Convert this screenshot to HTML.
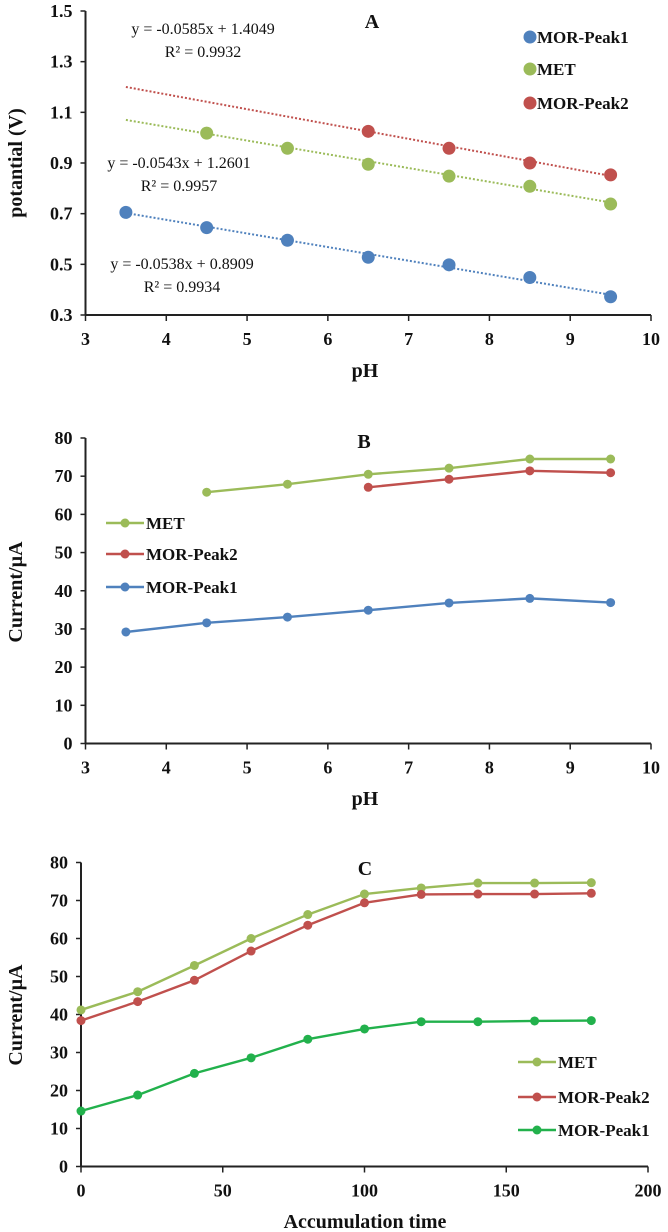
<!DOCTYPE html>
<html><head><meta charset="utf-8">
<style>
html,body{margin:0;padding:0;background:#fff;}
svg{display:block;font-family:"Liberation Serif","DejaVu Serif",serif;}
.tk{font-size:18px;font-weight:bold;fill:#111;}
.ttl{font-size:20px;font-weight:bold;fill:#111;}
.eq{font-size:16px;fill:#111;}
.lg{font-size:17px;font-weight:bold;fill:#111;}
</style></head>
<body>
<svg id="svg" width="668" height="1232" viewBox="0 0 668 1232" xmlns="http://www.w3.org/2000/svg"></svg>
<script>
// ---- Chart A data ----
const aPh1 = [3.5,4.5,5.5,6.5,7.5,8.5,9.5];
const aPeak1 = [0.705,0.645,0.595,0.528,0.498,0.448,0.372];
const aPhMet = [4.5,5.5,6.5,7.5,8.5,9.5];
const aMet = [1.018,0.958,0.895,0.848,0.808,0.738];
const aPh2 = [6.5,7.5,8.5,9.5];
const aPeak2 = [1.025,0.958,0.900,0.853];
const aSlopes = [-0.0538,-0.0543,-0.0585];
const aIntercepts = [0.8909,1.2601,1.4049];
const aYTicks = [0.3,0.5,0.7,0.9,1.1,1.3,1.5];
const aXTicks = [3,4,5,6,7,8,9,10];
// ---- Chart B data ----
const bPh1 = [3.5,4.5,5.5,6.5,7.5,8.5,9.5];
const bPeak1 = [29.2,31.6,33.1,34.9,36.8,38.0,36.9];
const bPhMet = [4.5,5.5,6.5,7.5,8.5,9.5];
const bMet = [65.8,67.9,70.5,72.1,74.5,74.5];
const bPh2 = [6.5,7.5,8.5,9.5];
const bPeak2 = [67.1,69.2,71.4,70.9];
const bYTicks = [0,10,20,30,40,50,60,70,80];
const bXTicks = [3,4,5,6,7,8,9,10];
// ---- Chart C data ----
const cTime = [0,20,40,60,80,100,120,140,160,180];
const cMet = [41.2,46.0,52.9,60.0,66.3,71.7,73.3,74.6,74.6,74.7];
const cPeak2 = [38.4,43.4,49.0,56.7,63.5,69.4,71.6,71.7,71.7,71.9];
const cPeak1 = [14.6,18.8,24.5,28.6,33.5,36.2,38.1,38.1,38.3,38.4];
const cYTicks = [0,10,20,30,40,50,60,70,80];
const cXTicks = [0,50,100,150,200];

const NS='http://www.w3.org/2000/svg';
const svg=document.getElementById('svg');
function mk(tag,attrs,parent){const e=document.createElementNS(NS,tag);for(const k in attrs)e.setAttribute(k,attrs[k]);(parent||svg).appendChild(e);return e;}
function txt(s,x,y,cls,anchor,parent){const t=mk('text',{x:x,y:y,'class':cls,'text-anchor':anchor||'start'},parent);t.textContent=s;return t;}

const BLUE='#4f81bd',GREEN='#9bbb59',RED='#c0504d',DGREEN='#22b14c';

function axes(g,sx,sy,xt,yt,x0,x1,y0,y1,yFmt){
  const ax=mk('g',{},g);
  
  
  mk('line',{x1:x0,y1:y0,x2:x0,y2:y1,stroke:'#222','stroke-width':2},ax);
  mk('line',{x1:x0,y1:y0,x2:x1,y2:y0,stroke:'#222','stroke-width':2},ax);
  yt.forEach(v=>{const y=sy(v);mk('line',{x1:x0-5,y1:y,x2:x0,y2:y,stroke:'#222','stroke-width':1.5},ax);
    const t=txt(yFmt(v),x0-13,y+6,'tk','end',ax);
    
    });
  xt.forEach(v=>{const x=sx(v);mk('line',{x1:x,y1:y0,x2:x,y2:y0+6,stroke:'#222','stroke-width':1.5},ax);
    const t=txt(String(v),x,y0+30,'tk','middle',ax);
    
    });
}
function series(g,name,xs,ys,sx,sy,color,r,line){
  const s=mk('g',{},g);
  
  
  if(line){mk('polyline',{points:xs.map((x,i)=>sx(x)+','+sy(ys[i])).join(' '),fill:'none',stroke:color,'stroke-width':2.4},s);}
  xs.forEach((x,i)=>{const c=mk('circle',{cx:sx(x),cy:sy(ys[i]),r:r,fill:color},s);
    
    });
}
function ytitle(s,x,y,g){const t=txt(s,x,y,'ttl','middle',g);t.setAttribute('transform','rotate(-90 '+x+' '+y+')');}
function label(s,x,y,cls,anchor,name,g){const t=txt(s,x,y,cls,anchor,g);return t;}
function lineLegend(g,name,s,x,y,color){
  const l=mk('g',{},g);
  
  
  mk('line',{x1:x,y1:y,x2:x+38,y2:y,stroke:color,'stroke-width':2.5},l);
  mk('circle',{cx:x+19,cy:y,r:4.5,fill:color},l);
  txt(s,x+40,y+6,'lg','start',l);
}

// ===== Chart A =====
(function(){
  const g=mk('g',{});
  const X0=85.5,X1=651,Y0=315,Y1=11;
  const sx=v=>X0+(v-3)/(10-3)*(X1-X0);
  const sy=v=>Y0-(v-0.3)/(1.5-0.3)*(Y0-Y1);
  axes(g,sx,sy,aXTicks,aYTicks,X0,X1,Y0,Y1,v=>v.toFixed(1));
  const cols=[BLUE,GREEN,RED];
  aSlopes.forEach((m,i)=>{const l=mk('line',{x1:sx(3.5),y1:sy(m*3.5+aIntercepts[i]),x2:sx(9.5),y2:sy(m*9.5+aIntercepts[i]),stroke:cols[i],'stroke-width':2,'stroke-dasharray':'2,2'},g);
    
    });
  series(g,'series-mor-peak1',aPh1,aPeak1,sx,sy,BLUE,6.5,false);
  series(g,'series-met',aPhMet,aMet,sx,sy,GREEN,6.5,false);
  series(g,'series-mor-peak2',aPh2,aPeak2,sx,sy,RED,6.5,false);
  label('A',372,28,'ttl','middle','chart-title',g).setAttribute('font-size','26');
  label('y = -0.0585x  + 1.4049',203,34,'eq','middle','equation-peak2',g);
  label('R² = 0.9932',203,57,'eq','middle','r2-peak2',g);
  label('y = -0.0543x  + 1.2601',179,168,'eq','middle','equation-met',g);
  label('R² = 0.9957',179,191,'eq','middle','r2-met',g);
  label('y = -0.0538x  + 0.8909',182,269,'eq','middle','equation-peak1',g);
  label('R² = 0.9934',182,292,'eq','middle','r2-peak1',g);
  [['MOR-Peak1',BLUE,37],['MET',GREEN,69],['MOR-Peak2',RED,103]].forEach(d=>{
    const l=mk('g',{},g);
    
    
    mk('circle',{cx:530,cy:d[2],r:6.5,fill:d[1]},l);
    txt(d[0],537,d[2]+6,'lg','start',l);
  });
  ytitle('potantial (V)',22,163,g);
  label('pH',365,377,'ttl','middle','x-axis-title',g);
})();

// ===== Chart B =====
(function(){
  const g=mk('g',{});
  const X0=85.5,X1=651,Y0=743.5,Y1=438;
  const sx=v=>X0+(v-3)/(10-3)*(X1-X0);
  const sy=v=>Y0-v/80*(Y0-Y1);
  axes(g,sx,sy,bXTicks,bYTicks,X0,X1,Y0,Y1,v=>String(v));
  series(g,'series-met',bPhMet,bMet,sx,sy,GREEN,4.5,true);
  series(g,'series-mor-peak2',bPh2,bPeak2,sx,sy,RED,4.5,true);
  series(g,'series-mor-peak1',bPh1,bPeak1,sx,sy,BLUE,4.5,true);
  label('B',364,448,'ttl','middle','chart-title',g).setAttribute('font-size','26');
  lineLegend(g,'legend-met','MET',106,523,GREEN);
  lineLegend(g,'legend-mor-peak2','MOR-Peak2',106,554,RED);
  lineLegend(g,'legend-mor-peak1','MOR-Peak1',106,587,BLUE);
  ytitle('Current/µA',22,592,g);
  label('pH',365,805,'ttl','middle','x-axis-title',g);
})();

// ===== Chart C =====
(function(){
  const g=mk('g',{});
  const X0=81,X1=648,Y0=1166.5,Y1=862.5;
  const sx=v=>X0+v/200*(X1-X0);
  const sy=v=>Y0-v/80*(Y0-Y1);
  axes(g,sx,sy,cXTicks,cYTicks,X0,X1,Y0,Y1,v=>String(v));
  series(g,'series-met',cTime,cMet,sx,sy,GREEN,4.5,true);
  series(g,'series-mor-peak2',cTime,cPeak2,sx,sy,RED,4.5,true);
  series(g,'series-mor-peak1',cTime,cPeak1,sx,sy,DGREEN,4.5,true);
  label('C',365,875,'ttl','middle','chart-title',g).setAttribute('font-size','26');
  lineLegend(g,'legend-met','MET',518,1062,GREEN);
  lineLegend(g,'legend-mor-peak2','MOR-Peak2',518,1097,RED);
  lineLegend(g,'legend-mor-peak1','MOR-Peak1',518,1130,DGREEN);
  ytitle('Current/µA',22,1015,g);
  label('Accumulation  time',365,1228,'ttl','middle','x-axis-title',g);
})();
</script>
</body></html>
